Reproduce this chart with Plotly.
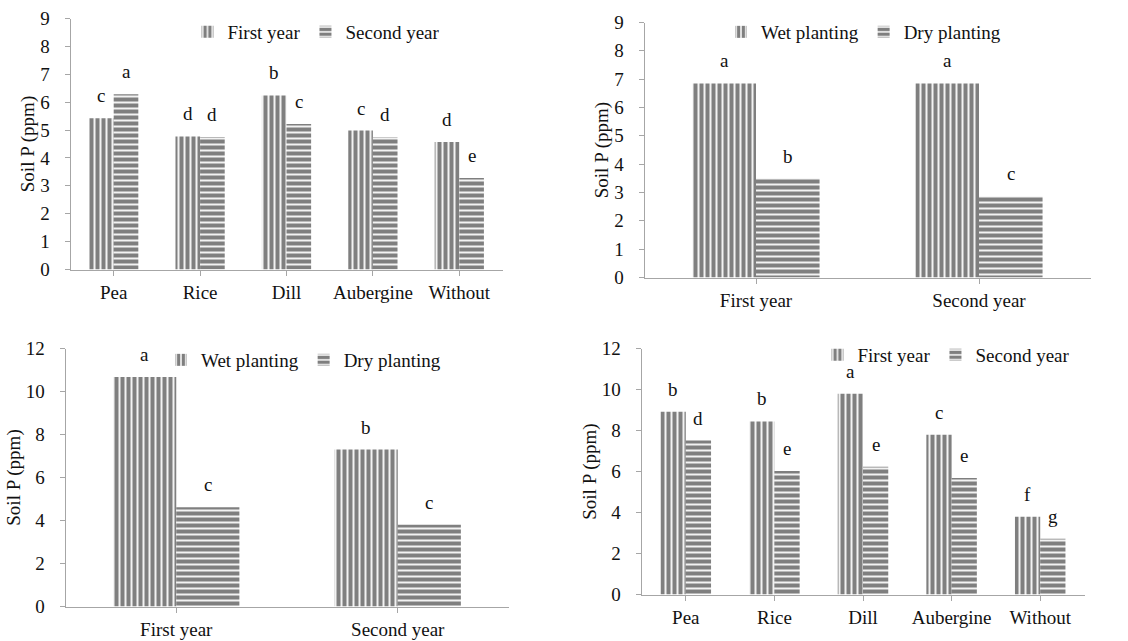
import plotly.graph_objects as go

# ---------------- data ----------------
crops = ["Pea", "Rice", "Dill", "Aubergine", "Without"]
years = ["First year", "Second year"]

p1_first = [5.42, 4.77, 6.24, 4.98, 4.57]
p1_second = [6.28, 4.75, 5.22, 4.74, 3.28]
p1_first_lbl = ["c", "d", "b", "c", "d"]
p1_second_lbl = ["a", "d", "c", "d", "e"]

p2_wet = [6.85, 6.85]
p2_dry = [3.49, 2.86]
p2_wet_lbl = ["a", "a"]
p2_dry_lbl = ["b", "c"]

p3_wet = [10.68, 7.30]
p3_dry = [4.62, 3.80]
p3_wet_lbl = ["a", "b"]
p3_dry_lbl = ["c", "c"]

p4_first = [8.91, 8.44, 9.79, 7.79, 3.79]
p4_second = [7.51, 6.03, 6.23, 5.68, 2.72]
p4_first_lbl = ["b", "b", "a", "c", "f"]
p4_second_lbl = ["d", "e", "e", "e", "g"]

# ---------------- style ----------------
FONT = "Liberation Serif"
TXT = "#111111"
AXC = "#a6a6a6"
BARGAP = 0.43
OFF = (1 - BARGAP) / 4

vert = dict(shape="|", fgcolor="black", bgcolor="white", size=6, solidity=0.7)
horz = dict(shape="-", fgcolor="black", bgcolor="white", size=6, solidity=0.7)

fig = go.Figure()

panels = [
    ("x", "y", "legend", crops, p1_first, p1_second, p1_first_lbl, p1_second_lbl, years),
    ("x2", "y2", "legend2", years, p2_wet, p2_dry, p2_wet_lbl, p2_dry_lbl, ["Wet planting", "Dry planting"]),
    ("x3", "y3", "legend3", years, p3_wet, p3_dry, p3_wet_lbl, p3_dry_lbl, ["Wet planting", "Dry planting"]),
    ("x4", "y4", "legend4", crops, p4_first, p4_second, p4_first_lbl, p4_second_lbl, years),
]

annotations = []
for xa, ya, lg, cats, s1, s2, l1, l2, names in panels:
    fig.add_trace(go.Bar(x=cats, y=s1, name=names[0], xaxis=xa, yaxis=ya, legend=lg,
                         marker=dict(color="black", pattern=vert, line=dict(width=0))))
    fig.add_trace(go.Bar(x=cats, y=s2, name=names[1], xaxis=xa, yaxis=ya, legend=lg,
                         marker=dict(color="black", pattern=horz, line=dict(width=0))))
    for i, (v, t) in enumerate(zip(s1, l1)):
        annotations.append(dict(x=i - OFF, y=v, text=t, xref=xa, yref=ya, showarrow=False,
                                yanchor="bottom", yshift=10, font=dict(family=FONT, size=19, color=TXT)))
    for i, (v, t) in enumerate(zip(s2, l2)):
        annotations.append(dict(x=i + OFF, y=v, text=t, xref=xa, yref=ya, showarrow=False,
                                yanchor="bottom", yshift=10, font=dict(family=FONT, size=19, color=TXT)))

W, H = 1128, 641


def dom_x(a, b):
    return [a / W, b / W]


def dom_y(bottom_px, top_px):
    return [1 - bottom_px / H, 1 - top_px / H]


def px_x(a):
    return a / W


def px_y(b):
    return 1 - b / H


xcommon = dict(showline=True, linecolor=AXC, linewidth=1, ticks="outside", ticklen=5,
               tickcolor=AXC, showgrid=False, zeroline=False, ticklabelstandoff=1,
               tickfont=dict(family=FONT, size=19, color=TXT))
ycommon = dict(showline=True, linecolor=AXC, linewidth=1, ticks="outside", ticklen=5,
               tickcolor=AXC, showgrid=False, zeroline=False, ticklabelstandoff=11,
               tickfont=dict(family=FONT, size=19, color=TXT),
               title=dict(text="Soil P (ppm)", font=dict(family=FONT, size=19, color=TXT), standoff=0))

legcommon = dict(orientation="h", xanchor="center", yanchor="middle", bgcolor="rgba(0,0,0,0)",
                 font=dict(family=FONT, size=19, color=TXT), itemwidth=30, traceorder="normal")

fig.update_layout(
    width=W, height=H, margin=dict(l=0, r=0, t=0, b=0, autoexpand=False),
    paper_bgcolor="white", plot_bgcolor="white",
    barmode="group", bargap=BARGAP, bargroupgap=0,
    xaxis=dict(domain=dom_x(70.5, 502.5), anchor="y", **xcommon),
    yaxis=dict(domain=dom_y(269.5, 18.5), anchor="x", range=[0, 9], dtick=1, **ycommon),
    xaxis2=dict(domain=dom_x(644.5, 1090.5), anchor="y2", **xcommon),
    yaxis2=dict(domain=dom_y(277.5, 22.5), anchor="x2", range=[0, 9], dtick=1, **ycommon),
    xaxis3=dict(domain=dom_x(65.5, 508.5), anchor="y3", **xcommon),
    yaxis3=dict(domain=dom_y(606.5, 348.5), anchor="x3", range=[0, 12], dtick=2, **ycommon),
    xaxis4=dict(domain=dom_x(641.5, 1084.5), anchor="y4", **xcommon),
    yaxis4=dict(domain=dom_y(594.5, 348.5), anchor="x4", range=[0, 12], dtick=2, **ycommon),
    legend=dict(x=px_x(316.5), y=px_y(32), **legcommon),
    legend2=dict(x=px_x(863.5), y=px_y(32), **legcommon),
    legend3=dict(x=px_x(303.5), y=px_y(360), **legcommon),
    legend4=dict(x=px_x(946.5), y=px_y(355), **legcommon),
    annotations=annotations,
    showlegend=True,
)

# remove the browser's default 8px body margin so the figure fills the window
fig.write_html("out.html", config={"displayModeBar": False},
               post_script="document.body.style.margin='0';")
